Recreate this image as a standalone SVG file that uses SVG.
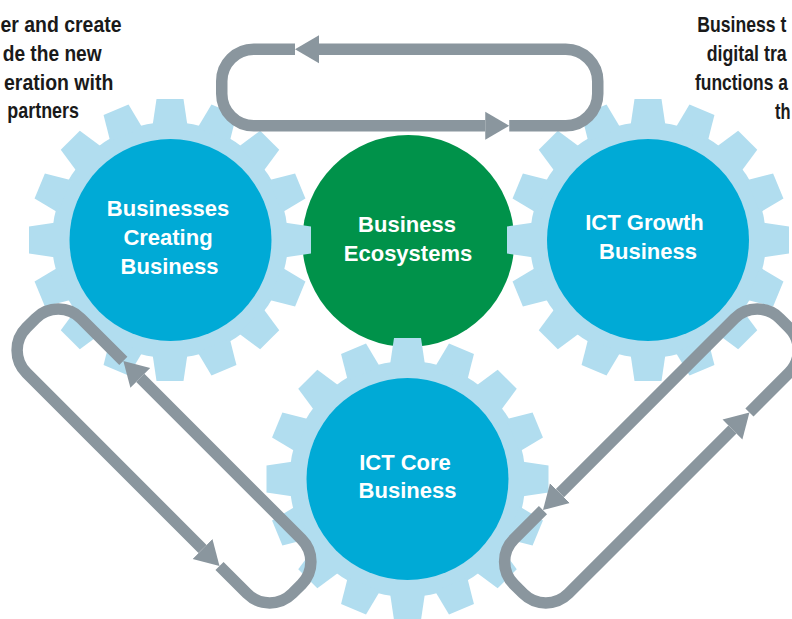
<svg xmlns="http://www.w3.org/2000/svg" xmlns:xlink="http://www.w3.org/1999/xlink" width="792" height="619" viewBox="0 0 792 619">
<style>
.teeth{fill:#b1ddef}
.hub{fill:#00aad6}
.eco{fill:#00924a}
.lbl{font-family:"Liberation Sans",Arial,sans-serif;font-weight:bold;font-size:22px;fill:#ffffff;text-anchor:middle}
.note{font-family:"Liberation Sans",Arial,sans-serif;font-weight:bold;font-size:22.5px;fill:#1a1a1a}
.loop{fill:none;stroke:#8a969e;stroke-width:11.5;stroke-linecap:butt;stroke-linejoin:round}
</style>
<defs>
<path id="tooth" d="M-17.5,-114 L-13.5,-141 L13.5,-141 L17.5,-114 Z"/>
<g id="gear" class="teeth">
<circle r="118"/>
<use xlink:href="#tooth"/>
<use xlink:href="#tooth" transform="rotate(22.5)"/>
<use xlink:href="#tooth" transform="rotate(45)"/>
<use xlink:href="#tooth" transform="rotate(67.5)"/>
<use xlink:href="#tooth" transform="rotate(90)"/>
<use xlink:href="#tooth" transform="rotate(112.5)"/>
<use xlink:href="#tooth" transform="rotate(135)"/>
<use xlink:href="#tooth" transform="rotate(157.5)"/>
<use xlink:href="#tooth" transform="rotate(180)"/>
<use xlink:href="#tooth" transform="rotate(202.5)"/>
<use xlink:href="#tooth" transform="rotate(225)"/>
<use xlink:href="#tooth" transform="rotate(247.5)"/>
<use xlink:href="#tooth" transform="rotate(270)"/>
<use xlink:href="#tooth" transform="rotate(292.5)"/>
<use xlink:href="#tooth" transform="rotate(315)"/>
<use xlink:href="#tooth" transform="rotate(337.5)"/>
</g>
<marker id="ah" markerUnits="userSpaceOnUse" markerWidth="26" markerHeight="30" viewBox="0 -15 26 30" refX="0" refY="0" orient="auto">
<path d="M0,-14 L24,0 L0,14 Z" fill="#8a969e"/>
</marker>
</defs>
<rect width="792" height="619" fill="#ffffff"/>

<g id="note-left" class="note">
<text x="0.5" y="31.7" textLength="121" lengthAdjust="spacingAndGlyphs">er and create</text>
<text x="2.7" y="61" textLength="99" lengthAdjust="spacingAndGlyphs">de the new</text>
<text x="4" y="90" textLength="109.3" lengthAdjust="spacingAndGlyphs">eration with</text>
<text x="7.3" y="118.3" textLength="71.7" lengthAdjust="spacingAndGlyphs">partners</text>
</g>
<g id="note-right" class="note">
<text x="697.3" y="32.3" textLength="89" lengthAdjust="spacingAndGlyphs">Business t</text>
<text x="706.7" y="61" textLength="80" lengthAdjust="spacingAndGlyphs">digital tra</text>
<text x="695" y="90" textLength="93" lengthAdjust="spacingAndGlyphs">functions a</text>
<text x="775" y="119.3" textLength="15.5" lengthAdjust="spacingAndGlyphs">th</text>
</g>

<g id="business-ecosystems">
<circle class="eco" cx="408.3" cy="241" r="106"/>
<text class="lbl" x="407" y="231.7">Business</text>
<text class="lbl" x="408" y="260.5">Ecosystems</text>
</g>

<g id="businesses-creating-business">
<use xlink:href="#gear" transform="translate(170,240)"/>
<circle class="hub" cx="170.5" cy="240" r="101"/>
<text class="lbl" x="168" y="216">Businesses</text>
<text class="lbl" x="168" y="245">Creating</text>
<text class="lbl" x="169.5" y="274">Business</text>
</g>

<g id="ict-growth-business">
<use xlink:href="#gear" transform="translate(648,240)"/>
<circle class="hub" cx="648" cy="240" r="101"/>
<text class="lbl" x="644.5" y="230">ICT Growth</text>
<text class="lbl" x="648" y="259">Business</text>
</g>

<g id="ict-core-business">
<use xlink:href="#gear" transform="translate(407.5,479)"/>
<circle class="hub" cx="407.5" cy="479" r="101"/>
<text class="lbl" x="405" y="470">ICT Core</text>
<text class="lbl" x="407.5" y="498.3">Business</text>
</g>

<g id="connectors" class="loop" marker-end="url(#ah)">
<g transform="translate(409.75,87.5)">
<path d="M-114.75,-38.3 H-156 A32,32 0 0 0 -188,-6.3 V6.3 A32,32 0 0 0 -156,38.3 H75.5"/>
<path d="M99.5,38.3 H156 A32,32 0 0 0 188,6.3 V-6.3 A32,32 0 0 0 156,-38.3 H-90.75"/>
</g>
<g transform="translate(164,456) rotate(45)">
<path d="M-96,-38.5 H-156 A32,32 0 0 0 -188,-6.5 V6.5 A32,32 0 0 0 -156,38.5 H93"/>
<path d="M117,38.5 H156 A32,32 0 0 0 188,6.5 V-6.5 A32,32 0 0 0 156,-38.5 H-72"/>
</g>
<g transform="translate(651.5,456) rotate(-45)">
<path d="M-115,-38.5 H-156 A32,32 0 0 0 -188,-6.5 V6.5 A32,32 0 0 0 -156,38.5 H76"/>
<path d="M100,38.5 H156 A32,32 0 0 0 188,6.5 V-6.5 A32,32 0 0 0 156,-38.5 H-91"/>
</g>
</g>
</svg>
